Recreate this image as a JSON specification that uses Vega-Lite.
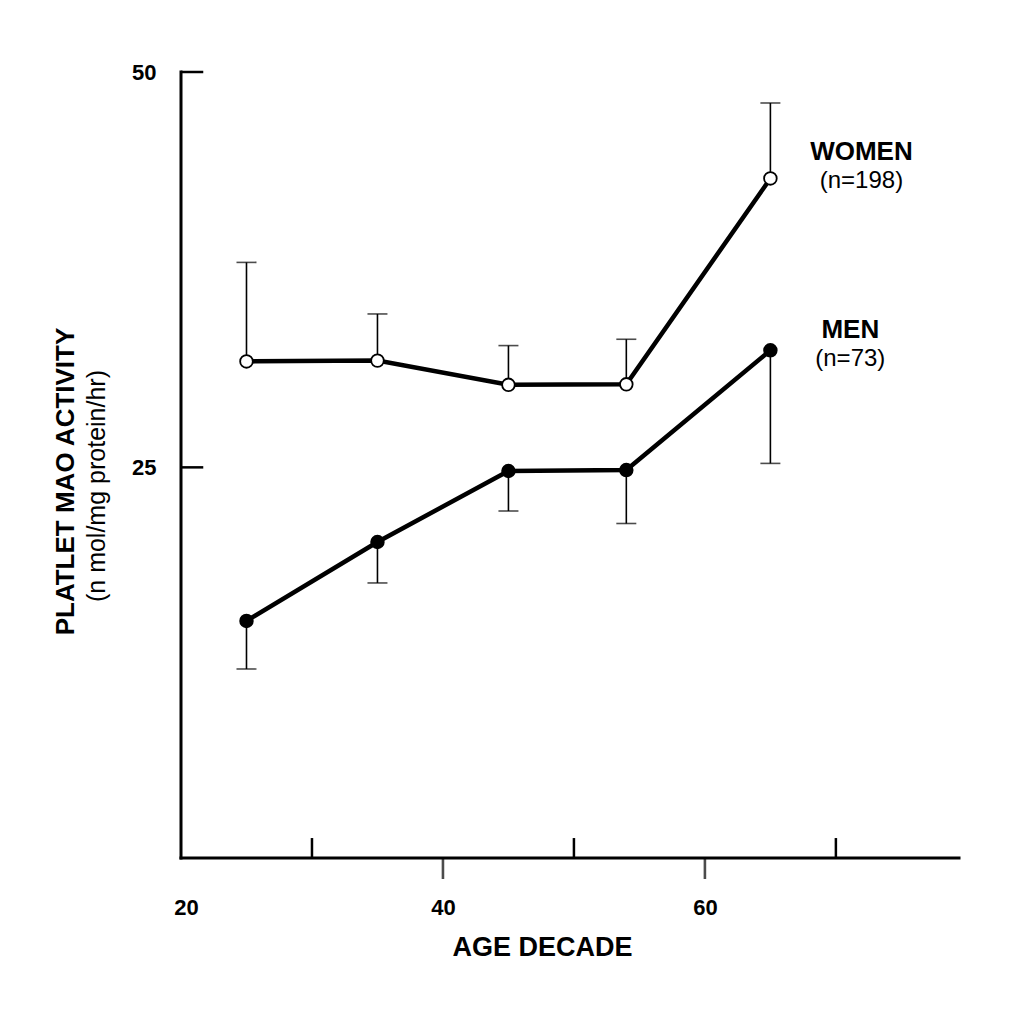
{
  "$schema": "https://vega.github.io/schema/vega-lite/v6.json",
  "autosize": {"type": "none"},
  "padding": {"left": 181, "top": 72, "right": 65, "bottom": 145},
  "width": 778,
  "height": 807,
  "config": {
    "view": {"stroke": null},
    "font": "Liberation Sans",
    "text": {"font": "Liberation Sans", "color": "black"}
  },
  "datasets": {
    "mao": [
      {"sex": "Women", "age": 25, "mao": 31.7, "bar": 37.96},
      {"sex": "Women", "age": 35, "mao": 31.75, "bar": 34.7},
      {"sex": "Women", "age": 45, "mao": 30.22, "bar": 32.7},
      {"sex": "Women", "age": 54, "mao": 30.25, "bar": 33.1},
      {"sex": "Women", "age": 65, "mao": 43.27, "bar": 48.04},
      {"sex": "Men", "age": 25, "mao": 15.29, "bar": 12.25},
      {"sex": "Men", "age": 35, "mao": 20.28, "bar": 17.69},
      {"sex": "Men", "age": 45, "mao": 24.77, "bar": 22.24},
      {"sex": "Men", "age": 54, "mao": 24.83, "bar": 21.45},
      {"sex": "Men", "age": 65, "mao": 32.4, "bar": 25.25}
    ],
    "xticksUp": [{"age": 30}, {"age": 50}, {"age": 70}],
    "xticksDown": [{"age": 40}, {"age": 60}],
    "yticks": [{"mao": 25}, {"mao": 50}],
    "labels": [
      {"group": "WOMEN", "n": "(n=198)", "age": 71.95, "mao": 44.96},
      {"group": "MEN", "n": "(n=73)", "age": 71.1, "mao": 33.69}
    ]
  },
  "layer": [
    {
      "data": {"name": "mao"},
      "mark": {"type": "line", "color": "black", "strokeWidth": 4.5},
      "encoding": {
        "x": {
          "field": "age", "type": "quantitative",
          "scale": {"domain": [20, 79.4], "nice": false, "zero": false},
          "axis": {
            "title": "AGE DECADE",
            "titleFontSize": 27, "titleFontWeight": "bold", "titleColor": "black",
            "titleX": 361, "titleY": 76, "titleBaseline": "alphabetic", "titleAlign": "center", "titleAnchor": null,
            "values": [20, 40, 60],
            "grid": false, "ticks": false, "domain": false,
            "labelFontSize": 22, "labelFontWeight": "bold", "labelColor": "black",
            "labelBaseline": "alphabetic", "labelPadding": 35, "labelFlush": false,
            "labelOffset": {"condition": {"test": "datum.value === 20", "value": 5}, "value": 0}
          }
        },
        "y": {
          "field": "mao", "type": "quantitative",
          "scale": {"domain": [-1.03, 50], "nice": false, "zero": false},
          "axis": {
            "title": "PLATLET MAO ACTIVITY",
            "titleFontSize": 26, "titleFontWeight": "bold", "titleColor": "black",
            "titleAngle": 270, "titleX": -108, "titleY": 409, "titleBaseline": "alphabetic", "titleAlign": "center", "titleAnchor": null,
            "values": [25, 50],
            "grid": false, "ticks": false, "domain": false,
            "labelFontSize": 22, "labelFontWeight": "bold", "labelColor": "black",
            "labelBaseline": "middle", "labelPadding": 25
          }
        },
        "detail": {"field": "sex"}
      }
    },
    {
      "data": {"values": [{"axis": "x"}]},
      "mark": {"type": "rule", "color": "black", "strokeWidth": 3, "strokeCap": "square"},
      "encoding": {
        "x": {"datum": 20},
        "x2": {"datum": 79.4},
        "y": {"datum": 0.3}
      }
    },
    {
      "data": {"values": [{"axis": "y"}]},
      "mark": {"type": "rule", "color": "black", "strokeWidth": 3, "strokeCap": "square"},
      "encoding": {
        "x": {"datum": 20},
        "y": {"datum": 0.3},
        "y2": {"datum": 50}
      }
    },
    {
      "data": {"name": "mao"},
      "mark": {"type": "rule", "color": "black", "strokeWidth": 1.6},
      "encoding": {
        "x": {"field": "age", "type": "quantitative"},
        "y": {"field": "mao", "type": "quantitative"},
        "y2": {"field": "bar"}
      }
    },
    {
      "data": {"name": "mao"},
      "mark": {"type": "tick", "orient": "horizontal", "color": "black", "size": 20, "thickness": 1.6},
      "encoding": {
        "x": {"field": "age", "type": "quantitative"},
        "y": {"field": "bar", "type": "quantitative"}
      }
    },
    {
      "data": {"name": "mao"},
      "mark": {"type": "point", "filled": true, "stroke": "black", "strokeWidth": 1.8, "size": 160, "opacity": 1},
      "encoding": {
        "x": {"field": "age", "type": "quantitative"},
        "y": {"field": "mao", "type": "quantitative"},
        "fill": {"field": "sex", "type": "nominal", "scale": {"domain": ["Women", "Men"], "range": ["white", "black"]}, "legend": null}
      }
    },
    {
      "data": {"name": "xticksUp"},
      "mark": {"type": "rule", "color": "black", "strokeWidth": 2.5},
      "encoding": {
        "x": {"field": "age", "type": "quantitative"},
        "y": {"datum": 0.3},
        "y2": {"datum": 1.56}
      }
    },
    {
      "data": {"name": "xticksDown"},
      "mark": {"type": "tick", "orient": "vertical", "color": "black", "size": 21, "thickness": 2.6},
      "encoding": {
        "x": {"field": "age", "type": "quantitative"},
        "y": {"datum": -0.365}
      }
    },
    {
      "data": {"name": "yticks"},
      "mark": {"type": "rule", "color": "black", "strokeWidth": 2.5},
      "encoding": {
        "y": {"field": "mao", "type": "quantitative"},
        "x": {"datum": 20},
        "x2": {"datum": 21.7}
      }
    },
    {
      "data": {"name": "labels"},
      "mark": {"type": "text", "fontSize": 26, "fontWeight": "bold", "align": "center", "baseline": "middle"},
      "encoding": {
        "x": {"field": "age", "type": "quantitative"},
        "y": {"field": "mao", "type": "quantitative"},
        "text": {"field": "group"}
      }
    },
    {
      "data": {"name": "labels"},
      "mark": {"type": "text", "fontSize": 24, "align": "center", "baseline": "middle", "dy": 29},
      "encoding": {
        "x": {"field": "age", "type": "quantitative"},
        "y": {"field": "mao", "type": "quantitative"},
        "text": {"field": "n"}
      }
    },
    {
      "data": {"values": [{"t": "(n mol/mg protein/hr)"}]},
      "mark": {"type": "text", "fontSize": 25, "angle": 270, "align": "center", "baseline": "middle"},
      "encoding": {
        "x": {"datum": 13.59},
        "y": {"datum": 23.82},
        "text": {"field": "t"}
      }
    }
  ]
}
